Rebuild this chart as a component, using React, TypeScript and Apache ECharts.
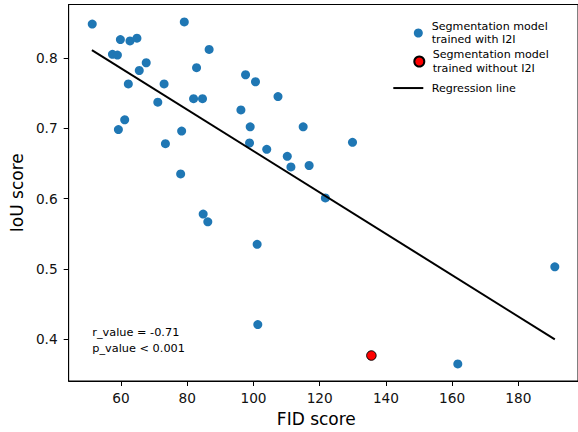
import React, { useEffect, useRef } from "react";
import * as echarts from "echarts";

// FID score (x) and IoU score (y) for segmentation models trained with I2I
const fidWithI2I = [
  51.3, 79.1, 59.8, 62.7, 64.8, 57.4, 58.9, 86.6, 67.6, 65.5,
  82.8, 97.6, 100.6, 62.2, 73.0, 107.4, 71.1, 81.9, 84.6, 96.2,
  99.0, 115.0, 61.1, 59.2, 78.3, 73.4, 98.8, 104.0, 110.2, 111.3,
  116.8, 78.0, 129.9, 84.8, 86.2, 101.1, 101.3, 121.7, 191.0, 161.7,
];
const iouWithI2I = [
  0.848, 0.851, 0.826, 0.824, 0.828, 0.805, 0.804, 0.812, 0.793, 0.782,
  0.786, 0.776, 0.766, 0.763, 0.763, 0.745, 0.737, 0.742, 0.742, 0.726,
  0.702, 0.702, 0.712, 0.698, 0.696, 0.678, 0.679, 0.670, 0.660, 0.645,
  0.647, 0.635, 0.680, 0.578, 0.567, 0.535, 0.421, 0.601, 0.503, 0.365,
];
// Segmentation model trained without I2I
const fidWithoutI2I = [135.6];
const iouWithoutI2I = [0.377];
// Regression line end points
const regressionFid = [51.2, 191.0];
const regressionIou = [0.811, 0.4];

const xTicks = [60, 80, 100, 120, 140, 160, 180];
const yTicks = [0.4, 0.5, 0.6, 0.7, 0.8];

const seriesNames = [
  "Segmentation model\ntrained with I2I",
  "Segmentation model\ntrained without I2I",
  "Regression line",
];
const statsText = ["r_value = -0.71", "p_value < 0.001"];

const FONT = "'DejaVu Sans', sans-serif";

export default function App() {
  const ref = useRef<HTMLDivElement>(null);
  useEffect(() => {
    if (!ref.current) return;
    const chart = echarts.init(ref.current, null, { renderer: "svg" });
    const pairs = (xs: number[], ys: number[]) => xs.map((x, i) => [x, ys[i]]);
    const legendText = {
      fontFamily: FONT,
      fontSize: 11.1,
      lineHeight: 13.5,
      color: "#000",
    };
    chart.setOption({
      animation: false,
      backgroundColor: "#fff",
      grid: {
        left: 68.5,
        top: 4.5,
        right: -1,
        bottom: 47.7,
        show: true,
        borderColor: "#000",
        borderWidth: 1,
        backgroundColor: "transparent",
      },
      xAxis: {
        type: "value",
        min: 44.18,
        max: 198.0,
        name: "FID score",
        nameLocation: "middle",
        nameGap: 29,
        nameTextStyle: {
          fontFamily: FONT,
          fontSize: 17,
          color: "#000",
          padding: [0, 14, 0, 0],
        },
        axisLine: { show: true, lineStyle: { color: "#000", width: 1 } },
        axisTick: {
          show: true,
          inside: false,
          length: 5,
          customValues: xTicks,
          lineStyle: { color: "#000", width: 1 },
        },
        axisLabel: {
          customValues: xTicks,
          fontFamily: FONT,
          fontSize: 13.7,
          color: "#111",
          margin: 10,
        },
        splitLine: { show: false },
      },
      yAxis: {
        type: "value",
        min: 0.3408,
        max: 0.8758,
        name: "IoU score",
        nameLocation: "middle",
        nameGap: 32,
        nameTextStyle: { fontFamily: FONT, fontSize: 17, color: "#000" },
        axisLine: { show: true, lineStyle: { color: "#000", width: 1 } },
        axisTick: {
          show: true,
          inside: false,
          length: 5,
          customValues: yTicks,
          lineStyle: { color: "#000", width: 1 },
        },
        axisLabel: {
          customValues: yTicks,
          fontFamily: FONT,
          fontSize: 13.7,
          color: "#111",
          margin: 11,
          formatter: (v: number) => v.toFixed(1),
        },
        splitLine: { show: false },
      },
      legend: [
        {
          data: [{ name: seriesNames[0], icon: "circle" }],
          left: 413.8,
          top: 19.5,
          padding: 0,
          itemWidth: 9,
          itemHeight: 9,
          textStyle: { ...legendText, padding: [0, 0, 0, 3.9] },
        },
        {
          data: [{ name: seriesNames[1], icon: "circle" }],
          left: 413.3,
          top: 48,
          padding: 0,
          itemWidth: 10,
          itemHeight: 10,
          textStyle: { ...legendText, padding: [0, 0, 0, 3.4] },
        },
        {
          data: [{ name: seriesNames[2], icon: "rect" }],
          left: 393.3,
          top: 81.3,
          padding: 0,
          itemWidth: 30,
          itemHeight: 2,
          textStyle: { ...legendText, padding: [0, 0, 0, 3.4] },
        },
      ],
      graphic: [
        {
          type: "text",
          left: 92.3,
          top: 325,
          style: {
            text: statsText.join("\n"),
            fontFamily: FONT,
            fontSize: 11.3,
            lineHeight: 15.5,
            fill: "#000",
          },
        },
      ],
      series: [
        {
          name: seriesNames[0],
          type: "scatter",
          data: pairs(fidWithI2I, iouWithI2I),
          symbol: "circle",
          symbolSize: 9,
          itemStyle: { color: "#1f77b4", opacity: 1 },
          z: 2,
        },
        {
          name: seriesNames[1],
          type: "scatter",
          data: pairs(fidWithoutI2I, iouWithoutI2I),
          symbol: "circle",
          symbolSize: 9.5,
          itemStyle: { color: "#ff0000", borderColor: "#000", borderWidth: 1, opacity: 1 },
          z: 3,
        },
        {
          name: seriesNames[2],
          type: "line",
          data: pairs(regressionFid, regressionIou),
          showSymbol: false,
          symbol: "none",
          lineStyle: { color: "#000", width: 2 },
          itemStyle: { color: "#000" },
          z: 4,
        },
      ],
    });
    return () => chart.dispose();
  }, []);
  return (
    <div
      ref={ref}
      style={{ position: "fixed", left: 0, top: 0, width: 578, height: 432 }}
    />
  );
}
